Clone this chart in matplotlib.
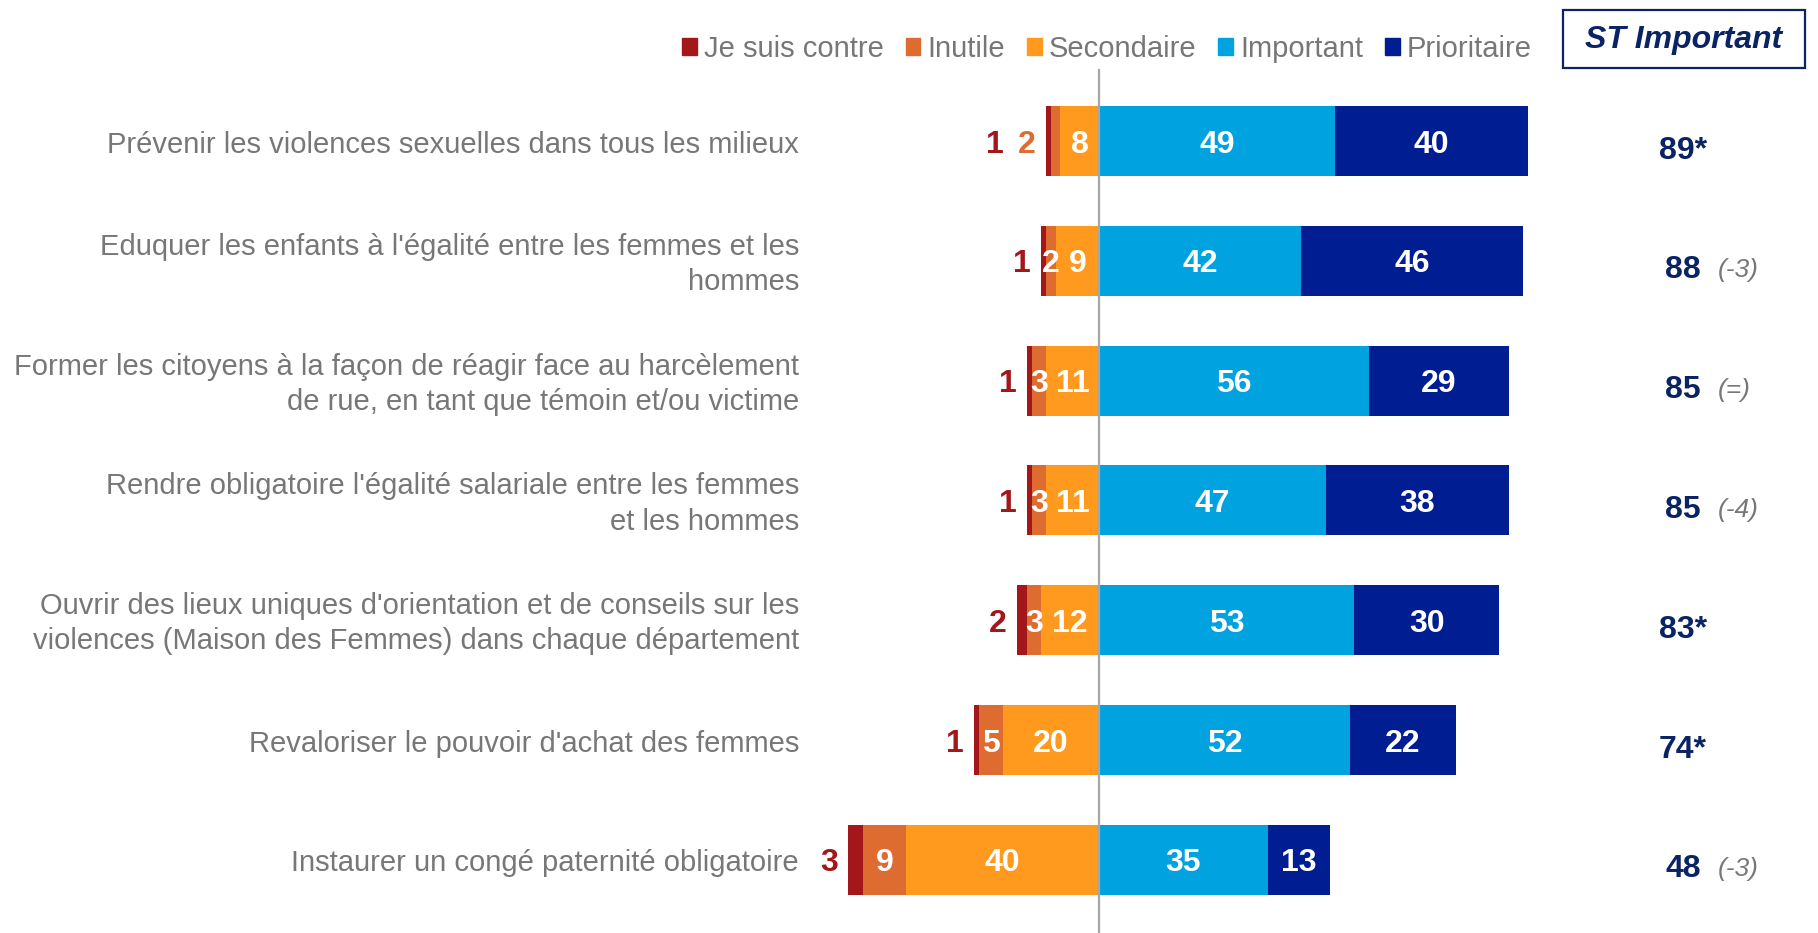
import matplotlib.pyplot as plt
from matplotlib.patches import Patch, Rectangle

plt.rcParams['font.family'] = ['Liberation Sans', 'DejaVu Sans']

# Données
labels = [
    "Prévenir les violences sexuelles dans tous les milieux",
    "Eduquer les enfants à l'égalité entre les femmes et les\nhommes",
    "Former les citoyens à la façon de réagir face au harcèlement\nde rue, en tant que témoin et/ou victime",
    "Rendre obligatoire l'égalité salariale entre les femmes\net les hommes",
    "Ouvrir des lieux uniques d'orientation et de conseils sur les\nviolences (Maison des Femmes) dans chaque département",
    "Revaloriser le pouvoir d'achat des femmes",
    "Instaurer un congé paternité obligatoire",
]
contre = [1, 1, 1, 1, 2, 1, 3]
inutile = [2, 2, 3, 3, 3, 5, 9]
secondaire = [8, 9, 11, 11, 12, 20, 40]
important = [49, 42, 56, 47, 53, 52, 35]
prioritaire = [40, 46, 29, 38, 30, 22, 13]
st_important = ["89*", "88", "85", "85", "83*", "74*", "48"]
evolution = ["", "(-3)", "(=)", "(-4)", "", "", "(-3)"]
inutile_dehors = [True, False, False, False, False, False, False]

series = ["Je suis contre", "Inutile", "Secondaire", "Important", "Prioritaire"]
couleurs = ["#A3161A", "#DE6B30", "#FF9A1E", "#00A3E0", "#001E92"]
gris = "#777777"
marine = "#0A2463"

fig = plt.figure(figsize=(18.18, 9.33), dpi=100)
ax = fig.add_axes([0, 0, 1, 1])

ppu = 4.82  # pixels par point de %
x0 = 1099
ax.set_xlim(-x0 / ppu, (1818 - x0) / ppu)
ax.set_ylim((933 - 141) / 119.8, -141 / 119.8)
ax.axis('off')

y = list(range(len(labels)))
h = 0.585
dy = 0.03  # petit recentrage vertical du texte

# barres négatives (empilées vers la gauche)
gauche_sec = [-s for s in secondaire]
gauche_inu = [-(s + i) for s, i in zip(secondaire, inutile)]
gauche_con = [-(s + i + c) for s, i, c in zip(secondaire, inutile, contre)]
ax.barh(y, secondaire, left=gauche_sec, height=h, color=couleurs[2])
ax.barh(y, inutile, left=gauche_inu, height=h, color=couleurs[1])
ax.barh(y, contre, left=gauche_con, height=h, color=couleurs[0])
# barres positives
ax.barh(y, important, left=0, height=h, color=couleurs[3])
ax.barh(y, prioritaire, left=important, height=h, color=couleurs[4])

ax.axvline(0, ymin=0, ymax=1 - 70 / 933, color="#A6A6A6", lw=1.6, zorder=5)

vfont = dict(fontsize=23, fontweight='bold', va='center', ha='center')
for k in y:
    yk = k + dy
    # valeurs dans les barres
    ax.text(-secondaire[k] / 2, yk, str(secondaire[k]), color='white', **vfont)
    ax.text(important[k] / 2, yk, str(important[k]), color='white', **vfont)
    ax.text(important[k] + prioritaire[k] / 2, yk, str(prioritaire[k]), color='white', **vfont)
    bord = gauche_con[k]
    if inutile_dehors[k]:
        ax.text(bord - 4, yk, str(inutile[k]), color=couleurs[1], **vfont)
        ax.text(bord - 10.5, yk, str(contre[k]), color=couleurs[0], **vfont)
    else:
        ax.text(gauche_sec[k] - inutile[k] / 2, yk, str(inutile[k]), color='white', **vfont)
        ax.text(bord - 4, yk, str(contre[k]), color=couleurs[0], **vfont)

    # libellés
    ax.text(-(x0 - 799) / ppu, yk, labels[k], ha='right', va='center', fontsize=21,
            color=gris, linespacing=1.32)

    # total ST Important et évolution
    ax.text((1683 - x0) / ppu, k + 0.08, st_important[k], ha='center', va='center',
            fontsize=23, fontweight='bold', color=marine)
    if evolution[k]:
        ax.text((1718 - x0) / ppu, k + 0.08, evolution[k], ha='left', va='center',
                fontsize=19, style='italic', color=gris)

# légende
handles = [Patch(color=c) for c in couleurs]
fig.legend(handles, series, loc='center right', bbox_to_anchor=(1532 / 1818, 1 - 49 / 933),
           ncol=5, frameon=False, fontsize=21, handlelength=0.5, handleheight=0.5,
           handletextpad=0.25, columnspacing=0.75, labelcolor=gris,
           borderpad=0, borderaxespad=0)

# encadré ST Important
fig.patches.append(Rectangle((1563 / 1818, 1 - 68 / 933), 242 / 1818, 58 / 933,
                             transform=fig.transFigure, fc='white', ec=marine, lw=1.6))
fig.text(1684 / 1818, 1 - 40 / 933, "ST Important", ha='center', va='center', fontsize=23,
         fontweight='bold', style='italic', color=marine)

fig.savefig("out.png", dpi=100)
